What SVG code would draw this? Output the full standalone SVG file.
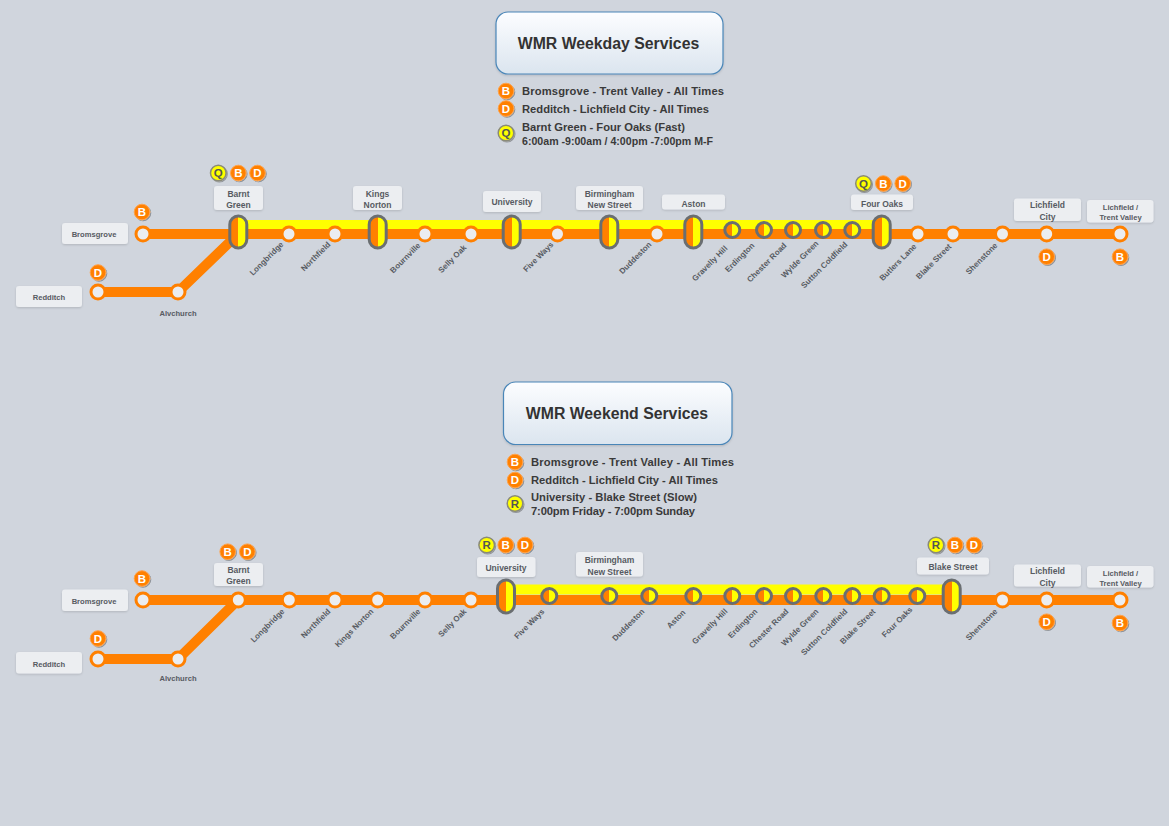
<svg xmlns="http://www.w3.org/2000/svg" width="1169" height="826" viewBox="0 0 1169 826">
<defs>
<linearGradient id="half" x1="0" y1="0" x2="1" y2="0">
<stop offset="0" stop-color="#ff8000"/><stop offset="0.5" stop-color="#ff8000"/><stop offset="0.5" stop-color="#ffff00"/><stop offset="1" stop-color="#ffff00"/>
</linearGradient>
<linearGradient id="titleg" x1="0" y1="0" x2="0" y2="1">
<stop offset="0" stop-color="#fcfdff"/><stop offset="1" stop-color="#dbe5ef"/>
</linearGradient>
<filter id="sh" x="-30%" y="-30%" width="160%" height="160%">
<feDropShadow dx="1" dy="1" stdDeviation="0.7" flood-color="#000" flood-opacity="0.3"/>
</filter>
<filter id="sh2" x="-10%" y="-10%" width="120%" height="130%">
<feDropShadow dx="0" dy="1" stdDeviation="1" flood-color="#000" flood-opacity="0.15"/>
</filter>
</defs>
<style>
text{font-family:"Liberation Sans",Arial,sans-serif;font-weight:bold}
.ln{fill:none;stroke:#ff8000;stroke-width:10;stroke-linejoin:round;stroke-linecap:round}
.yl{fill:none;stroke:#ffff00;stroke-width:10}
.st{fill:#ebedf0;stroke:#ff8000;stroke-width:3}
.hc{fill:url(#half);stroke:#6a6e71;stroke-width:3}
.cap{fill:url(#half);stroke:#6a6e71;stroke-width:3}
.box{fill:#eceef1;filter:url(#sh2)}
.bl{font-size:8.5px;fill:#575b62;text-anchor:middle}
.bs{font-size:7.6px;fill:#575b62;text-anchor:middle}
.rl{font-size:8px;fill:#575b62;text-anchor:end}
.bo circle{fill:#ff8000;stroke:#ffa24a;stroke-width:1;filter:url(#sh)}
.by circle{fill:#ffff00;stroke:#8a8a78;stroke-width:1.5;filter:url(#sh)}
.bo text{font-size:11.5px;fill:#ffffff;text-anchor:middle}
.by text{font-size:11.5px;fill:#555555;text-anchor:middle}
.tb{fill:url(#titleg);stroke:#4a86b8;stroke-width:1.2;filter:url(#sh2)}
.tt{font-size:15.8px;fill:#333333;text-anchor:middle}
.lg{font-size:11.2px;fill:#3a3a3a}
</style>
<rect width="1169" height="826" fill="#d0d5dd"/>

<!-- ===================== WEEKDAY ===================== -->
<g id="weekday-title">
<rect class="tb" x="496" y="12" width="227" height="62" rx="12"/>
<text class="tt" x="608.5" y="48.5">WMR Weekday Services</text>
</g>
<g id="weekday-legend">
<g class="bo" transform="translate(506,91)"><circle r="7.8"/><text y="4">B</text></g>
<g class="bo" transform="translate(506,108.5)"><circle r="7.8"/><text y="4">D</text></g>
<g class="by" transform="translate(506,133)"><circle r="7.8"/><text y="4">Q</text></g>
<text class="lg" x="522" y="95" textLength="202" lengthAdjust="spacing">Bromsgrove - Trent Valley - All Times</text>
<text class="lg" x="522" y="112.5" textLength="187" lengthAdjust="spacing">Redditch - Lichfield City - All Times</text>
<text class="lg" x="522" y="131" textLength="163" lengthAdjust="spacing">Barnt Green - Four Oaks (Fast)</text>
<text class="lg" x="522" y="145" textLength="191" lengthAdjust="spacingAndGlyphs">6:00am -9:00am / 4:00pm -7:00pm M-F</text>
</g>

<g id="weekday-connectors">
<path class="yl" d="M238,225 H882"/>
<path class="ln" d="M143,234 H1120"/>
<path class="ln" d="M98,292 H178 L238,234"/>
</g>

<g id="wd-bromsgrove">
<rect class="box" x="62" y="223" width="66" height="21" rx="3"/>
<text class="bs" x="94" y="237">Bromsgrove</text>
<circle class="st" cx="143" cy="234" r="7"/>
<g class="bo" transform="translate(142,212)"><circle r="7.8"/><text y="4">B</text></g>
</g>
<g id="wd-redditch">
<rect class="box" x="16" y="286" width="66" height="21" rx="3"/>
<text class="bs" x="49" y="300">Redditch</text>
<circle class="st" cx="98" cy="292" r="7"/>
<g class="bo" transform="translate(98,272.5)"><circle r="7.8"/><text y="4">D</text></g>
</g>
<g id="wd-alvchurch">
<circle class="st" cx="178" cy="292" r="7"/>
<text class="bs" x="178" y="315.5">Alvchurch</text>
</g>
<g id="wd-barnt-green">
<rect class="box" x="214" y="186" width="49" height="24" rx="3"/>
<text class="bl" x="238.5" y="196.5">Barnt</text>
<text class="bl" x="238.5" y="207.5">Green</text>
<rect class="cap" x="229.8" y="216" width="17" height="32" rx="8.5"/>
<g class="by" transform="translate(218.3,173)"><circle r="7.8"/><text y="4">Q</text></g>
<g class="bo" transform="translate(238.3,173)"><circle r="7.8"/><text y="4">B</text></g>
<g class="bo" transform="translate(257.5,173)"><circle r="7.8"/><text y="4">D</text></g>
</g>
<g id="wd-longbridge"><circle class="st" cx="289" cy="234" r="7"/><text class="rl" transform="translate(284,245) rotate(-45)">Longbridge</text></g>
<g id="wd-northfield"><circle class="st" cx="335" cy="234" r="7"/><text class="rl" transform="translate(331,245) rotate(-45)">Northfield</text></g>
<g id="wd-kings-norton">
<rect class="box" x="353" y="186" width="49" height="24" rx="3"/>
<text class="bl" x="377.5" y="197">Kings</text>
<text class="bl" x="377.5" y="208">Norton</text>
<rect class="cap" x="369.2" y="216" width="17" height="32" rx="8.5"/>
</g>
<g id="wd-bournville"><circle class="st" cx="425" cy="234" r="7"/><text class="rl" transform="translate(421,246) rotate(-45)">Bournville</text></g>
<g id="wd-selly-oak"><circle class="st" cx="471" cy="234" r="7"/><text class="rl" transform="translate(467,248) rotate(-45)">Selly Oak</text></g>
<g id="wd-university">
<rect class="box" x="483" y="191" width="58" height="21" rx="3"/>
<text class="bl" x="512" y="205">University</text>
<rect class="cap" x="503.2" y="216" width="17" height="32" rx="8.5"/>
</g>
<g id="wd-five-ways"><circle class="st" cx="557.5" cy="234" r="7"/><text class="rl" transform="translate(554,245) rotate(-45)">Five Ways</text></g>
<g id="wd-birmingham-new-street">
<rect class="box" x="576" y="186" width="67" height="24" rx="3"/>
<text class="bl" x="609.5" y="197">Birmingham</text>
<text class="bl" x="609.5" y="208">New Street</text>
<rect class="cap" x="600.8" y="216" width="17" height="32" rx="8.5"/>
</g>
<g id="wd-duddeston"><circle class="st" cx="657" cy="234" r="7"/><text class="rl" transform="translate(652,245) rotate(-45)">Duddeston</text></g>
<g id="wd-aston">
<rect class="box" x="662" y="194.5" width="63" height="15" rx="3"/>
<text class="bl" x="693.5" y="206.5">Aston</text>
<rect class="cap" x="684.8" y="216" width="17" height="32" rx="8.5"/>
</g>
<g id="wd-gravelly-hill"><circle class="hc" cx="732.3" cy="230" r="7.5"/><text class="rl" transform="translate(728,249) rotate(-45)">Gravelly Hill</text></g>
<g id="wd-erdington"><circle class="hc" cx="764" cy="230" r="7.5"/><text class="rl" transform="translate(755,246) rotate(-45)">Erdington</text></g>
<g id="wd-chester-road"><circle class="hc" cx="793" cy="230" r="7.5"/><text class="rl" transform="translate(787,246) rotate(-45)">Chester Road</text></g>
<g id="wd-wylde-green"><circle class="hc" cx="823" cy="230" r="7.5"/><text class="rl" transform="translate(819,244) rotate(-45)">Wylde Green</text></g>
<g id="wd-sutton-coldfield"><circle class="hc" cx="852.3" cy="230" r="7.5"/><text class="rl" transform="translate(848,245) rotate(-45)">Sutton Coldfield</text></g>
<g id="wd-four-oaks">
<rect class="box" x="851" y="194.5" width="62" height="15.5" rx="3"/>
<text class="bl" x="882" y="206.7">Four Oaks</text>
<rect class="cap" x="873.2" y="216" width="17" height="32" rx="8.5"/>
<g class="by" transform="translate(863.5,183.5)"><circle r="7.8"/><text y="4">Q</text></g>
<g class="bo" transform="translate(883.3,183.5)"><circle r="7.8"/><text y="4">B</text></g>
<g class="bo" transform="translate(902.7,183.5)"><circle r="7.8"/><text y="4">D</text></g>
</g>
<g id="wd-butlers-lane"><circle class="st" cx="918" cy="234" r="7"/><text class="rl" transform="translate(917,247) rotate(-45)">Butlers Lane</text></g>
<g id="wd-blake-street"><circle class="st" cx="953" cy="234" r="7"/><text class="rl" transform="translate(952,247) rotate(-45)">Blake Street</text></g>
<g id="wd-shenstone"><circle class="st" cx="1002.5" cy="234" r="7"/><text class="rl" transform="translate(998,246) rotate(-45)">Shenstone</text></g>
<g id="wd-lichfield-city">
<rect class="box" x="1014" y="198.5" width="67" height="22.5" rx="3"/>
<text class="bl" x="1047.5" y="208">Lichfield</text>
<text class="bl" x="1047.5" y="219.5">City</text>
<circle class="st" cx="1046.7" cy="234" r="7"/>
<g class="bo" transform="translate(1046.7,256.7)"><circle r="7.8"/><text y="4">D</text></g>
</g>
<g id="wd-lichfield-trent-valley">
<rect class="box" x="1087" y="200" width="66.5" height="22.5" rx="3"/>
<text class="bs" x="1120.5" y="210">Lichfield /</text>
<text class="bs" x="1120.5" y="220">Trent Valley</text>
<circle class="st" cx="1120" cy="234" r="7"/>
<g class="bo" transform="translate(1120,256.7)"><circle r="7.8"/><text y="4">B</text></g>
</g>

<!-- ===================== WEEKEND ===================== -->
<g id="weekend-title">
<rect class="tb" x="503.5" y="382" width="228.5" height="62.5" rx="12"/>
<text class="tt" x="617" y="418.5">WMR Weekend Services</text>
</g>
<g id="weekend-legend">
<g class="bo" transform="translate(515,462)"><circle r="7.8"/><text y="4">B</text></g>
<g class="bo" transform="translate(515,480)"><circle r="7.8"/><text y="4">D</text></g>
<g class="by" transform="translate(515,503.5)"><circle r="7.8"/><text y="4">R</text></g>
<text class="lg" x="531" y="466" textLength="203" lengthAdjust="spacing">Bromsgrove - Trent Valley - All Times</text>
<text class="lg" x="531" y="484" textLength="187" lengthAdjust="spacing">Redditch - Lichfield City - All Times</text>
<text class="lg" x="531" y="501" textLength="166" lengthAdjust="spacing">University - Blake Street (Slow)</text>
<text class="lg" x="531" y="515" textLength="164" lengthAdjust="spacing">7:00pm Friday - 7:00pm Sunday</text>
</g>

<g id="weekend-connectors">
<path class="yl" d="M506,589.5 H952"/>
<path class="ln" d="M143,600 H1120"/>
<path class="ln" d="M98,659 H178 L238,600"/>
</g>

<g id="we-bromsgrove">
<rect class="box" x="62" y="589.5" width="66" height="21.5" rx="3"/>
<text class="bs" x="94" y="603.5">Bromsgrove</text>
<circle class="st" cx="143" cy="600" r="7"/>
<g class="bo" transform="translate(142,578.5)"><circle r="7.8"/><text y="4">B</text></g>
</g>
<g id="we-redditch">
<rect class="box" x="16" y="652" width="66" height="21.5" rx="3"/>
<text class="bs" x="49" y="666.5">Redditch</text>
<circle class="st" cx="98" cy="659" r="7"/>
<g class="bo" transform="translate(98,638.5)"><circle r="7.8"/><text y="4">D</text></g>
</g>
<g id="we-alvchurch">
<circle class="st" cx="178" cy="659" r="7"/>
<text class="bs" x="178" y="681">Alvchurch</text>
</g>
<g id="we-barnt-green">
<rect class="box" x="214" y="563" width="49" height="23" rx="3"/>
<text class="bl" x="238.5" y="573">Barnt</text>
<text class="bl" x="238.5" y="584">Green</text>
<circle class="st" cx="238.3" cy="600" r="7"/>
<g class="bo" transform="translate(227.7,551.7)"><circle r="7.8"/><text y="4">B</text></g>
<g class="bo" transform="translate(247.3,551.7)"><circle r="7.8"/><text y="4">D</text></g>
</g>
<g id="we-longbridge"><circle class="st" cx="289.3" cy="600" r="7"/><text class="rl" transform="translate(285,612) rotate(-45)">Longbridge</text></g>
<g id="we-northfield"><circle class="st" cx="335" cy="600" r="7"/><text class="rl" transform="translate(331,612) rotate(-45)">Northfield</text></g>
<g id="we-kings-norton"><circle class="st" cx="377.7" cy="600" r="7"/><text class="rl" transform="translate(374,612) rotate(-45)">Kings Norton</text></g>
<g id="we-bournville"><circle class="st" cx="425" cy="600" r="7"/><text class="rl" transform="translate(421,612) rotate(-45)">Bournville</text></g>
<g id="we-selly-oak"><circle class="st" cx="471" cy="600" r="7"/><text class="rl" transform="translate(467,612) rotate(-45)">Selly Oak</text></g>
<g id="we-university">
<rect class="box" x="477" y="557" width="58.5" height="20" rx="3"/>
<text class="bl" x="506" y="570.5">University</text>
<rect class="cap" x="497.5" y="580" width="17" height="33" rx="8.5"/>
<g class="by" transform="translate(486.7,545)"><circle r="7.8"/><text y="4">R</text></g>
<g class="bo" transform="translate(505.7,545)"><circle r="7.8"/><text y="4">B</text></g>
<g class="bo" transform="translate(525,545)"><circle r="7.8"/><text y="4">D</text></g>
</g>
<g id="we-five-ways"><circle class="hc" cx="549.3" cy="596" r="7.5"/><text class="rl" transform="translate(545,612) rotate(-45)">Five Ways</text></g>
<g id="we-birmingham-new-street">
<rect class="box" x="576" y="552" width="67" height="24.5" rx="3"/>
<text class="bl" x="609.5" y="563">Birmingham</text>
<text class="bl" x="609.5" y="574.5">New Street</text>
<circle class="hc" cx="609.3" cy="596" r="7.5"/>
</g>
<g id="we-duddeston"><circle class="hc" cx="649.3" cy="596" r="7.5"/><text class="rl" transform="translate(645,612) rotate(-45)">Duddeston</text></g>
<g id="we-aston"><circle class="hc" cx="693.3" cy="596" r="7.5"/><text class="rl" transform="translate(686,613) rotate(-45)">Aston</text></g>
<g id="we-gravelly-hill"><circle class="hc" cx="732.3" cy="596" r="7.5"/><text class="rl" transform="translate(728,612) rotate(-45)">Gravelly Hill</text></g>
<g id="we-erdington"><circle class="hc" cx="764" cy="596" r="7.5"/><text class="rl" transform="translate(758,612) rotate(-45)">Erdington</text></g>
<g id="we-chester-road"><circle class="hc" cx="793" cy="596" r="7.5"/><text class="rl" transform="translate(789,612) rotate(-45)">Chester Road</text></g>
<g id="we-wylde-green"><circle class="hc" cx="823.3" cy="596" r="7.5"/><text class="rl" transform="translate(819,612) rotate(-45)">Wylde Green</text></g>
<g id="we-sutton-coldfield"><circle class="hc" cx="852.3" cy="596" r="7.5"/><text class="rl" transform="translate(848,612) rotate(-45)">Sutton Coldfield</text></g>
<g id="we-blake-street-a"><circle class="hc" cx="881.7" cy="596" r="7.5"/><text class="rl" transform="translate(876,612) rotate(-45)">Blake Street</text></g>
<g id="we-four-oaks"><circle class="hc" cx="917.3" cy="596" r="7.5"/><text class="rl" transform="translate(913,610) rotate(-45)">Four Oaks</text></g>
<g id="we-blake-street">
<rect class="box" x="917" y="557.5" width="72" height="17" rx="3"/>
<text class="bl" x="953" y="570">Blake Street</text>
<rect class="cap" x="943.2" y="580" width="17" height="33" rx="8.5"/>
<g class="by" transform="translate(936,545)"><circle r="7.8"/><text y="4">R</text></g>
<g class="bo" transform="translate(955,545)"><circle r="7.8"/><text y="4">B</text></g>
<g class="bo" transform="translate(974,545)"><circle r="7.8"/><text y="4">D</text></g>
</g>
<g id="we-shenstone"><circle class="st" cx="1002.5" cy="600" r="7"/><text class="rl" transform="translate(998,612) rotate(-45)">Shenstone</text></g>
<g id="we-lichfield-city">
<rect class="box" x="1014" y="564.5" width="67" height="22" rx="3"/>
<text class="bl" x="1047.5" y="574">Lichfield</text>
<text class="bl" x="1047.5" y="585.5">City</text>
<circle class="st" cx="1046.7" cy="600" r="7"/>
<g class="bo" transform="translate(1046.7,621.7)"><circle r="7.8"/><text y="4">D</text></g>
</g>
<g id="we-lichfield-trent-valley">
<rect class="box" x="1087" y="566" width="66.5" height="21.5" rx="3"/>
<text class="bs" x="1120.5" y="576">Lichfield /</text>
<text class="bs" x="1120.5" y="586">Trent Valley</text>
<circle class="st" cx="1120" cy="600" r="7"/>
<g class="bo" transform="translate(1120,623)"><circle r="7.8"/><text y="4">B</text></g>
</g>
</svg>
